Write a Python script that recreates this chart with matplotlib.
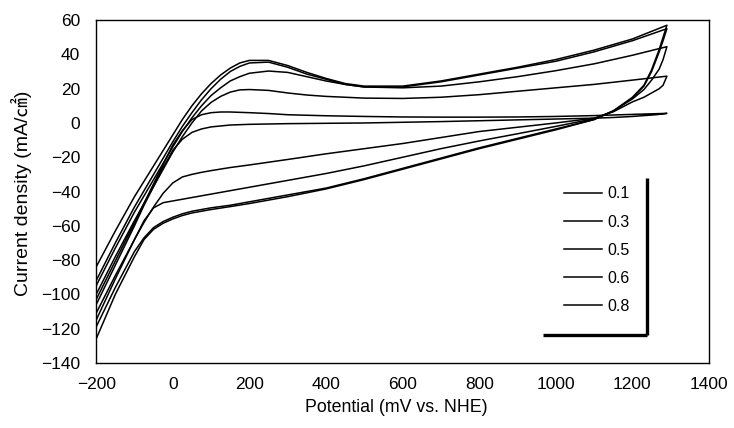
import matplotlib
matplotlib.use("Agg")
import matplotlib.pyplot as plt
from matplotlib.lines import Line2D

plt.rcParams['font.family'] = ['Liberation Sans', 'Noto Sans CJK KR', 'DejaVu Sans']

# scan labels (legend)
labels = ['0.1', '0.3', '0.5', '0.6', '0.8']

# forward (anodic) sweep potentials, mV vs NHE
E_fwd = [-200, -150, -100, -50, -25, 0, 25, 50, 75, 100, 125, 150, 175, 200, 250,
         300, 350, 400, 450, 500, 600, 700, 800, 900, 1000, 1100, 1200, 1290]
# reverse (cathodic) sweep potentials
E_rev = [1290, 1280, 1270, 1250, 1230, 1200, 1150, 1100, 1000, 900, 800, 700, 600,
         500, 400, 300, 200, 150, 100, 75, 50, 25, 0, -25, -50, -75, -100, -150, -200]

# current densities, mA/cm2
j_fwd_01 = [-103, -80.5, -58, -35.5, -24, -13, -4.5, 2, 4.8, 6, 6.4, 6.4, 6.2, 6, 5.5,
            4.8, 4.5, 4.2, 4, 3.8, 3.5, 3.4, 3.4, 3.5, 3.8, 4.3, 5, 5.6]
j_rev_01 = [5.6, 5.3, 5, 4.6, 4.3, 3.8, 3.2, 2.8, 2.3, 1.8, 1.3, 0.8, 0.4,
            0, -0.2, -0.4, -0.8, -1.2, -2.3, -3.5, -5.5, -9.5, -16, -26, -37, -48,
            -60, -83, -106]

j_fwd_03 = [-100, -78, -57, -37, -27, -17, -8, 0, 7, 12, 15.5, 18, 19.3, 19.5, 19,
            17.5, 16.3, 15.5, 15, 14.5, 14.3, 15, 16.5, 18.5, 20.5, 22.5, 25, 27.3]
j_rev_03 = [27.3, 22, 20, 17.5, 15, 12.3, 6.5, 2.8, 0, -2.5, -5, -8.5, -12,
            -15, -18, -21.3, -24.5, -26, -27.8, -28.8, -30, -31.5, -35, -41, -49, -58,
            -68, -89, -111]

j_fwd_05 = [-95, -73, -52, -33, -23.5, -14, -5, 3, 10, 16, 20.5, 24.5, 27, 29, 30.3,
            29.5, 27, 24.5, 22.5, 21, 20.5, 21.5, 24, 27, 30.5, 34.5, 39.5, 44.5]
j_rev_05 = [44.5, 37, 31.5, 25, 19.5, 14, 7, 2.5, -2, -6.3, -10.5, -15, -20,
            -25, -29.5, -33.5, -37.5, -39.5, -41.5, -42.5, -43.5, -44.5, -45.5, -46.5,
            -49.5, -57, -68, -91, -115]

j_fwd_06 = [-92, -70, -49, -30, -20.5, -11, -2, 6, 13.5, 20, 25.5, 30, 33, 35, 35.5,
            32.5, 28.5, 25.5, 22.5, 21, 21, 24, 28, 32, 36, 41.5, 48, 55]
j_rev_06 = [55, 48, 41.5, 30, 21.5, 14.5, 7, 2, -3.5, -9, -14.5, -20.5, -26.5,
            -32.5, -38, -42, -46, -48, -49.5, -50.5, -51.5, -53, -55, -57.5, -61, -67,
            -75, -96, -119]

j_fwd_08 = [-84, -63, -43, -25, -16, -7, 2, 10, 17, 23, 28, 32, 35, 36.5, 36.5,
            33.5, 29.5, 26, 23, 21.5, 21.5, 24.5, 28.5, 32.5, 37, 42.5, 49, 57]
j_rev_08 = [57, 50, 43, 31, 22, 15, 7, 2, -4, -9.5, -15, -21, -27,
            -33, -38.5, -43, -47, -48.8, -50.5, -51.5, -52.5, -54, -56, -58.5, -62, -68,
            -78, -100, -126]

fwd = [j_fwd_01, j_fwd_03, j_fwd_05, j_fwd_06, j_fwd_08]
rev = [j_rev_01, j_rev_03, j_rev_05, j_rev_06, j_rev_08]

x_ticks = [-200, 0, 200, 400, 600, 800, 1000, 1200, 1400]
y_ticks = [-140, -120, -100, -80, -60, -40, -20, 0, 20, 40, 60]

fig = plt.figure(figsize=(7.34, 4.28), dpi=100)
ax = fig.add_axes([0.131, 0.152, 0.835, 0.801])

for lab, jf, jr in zip(labels, fwd, rev):
    ax.plot(E_fwd + E_rev, jf + jr, color='black', lw=1.1, label=lab,
            solid_joinstyle='round')

ax.set_xlim(-200, 1400)
ax.set_ylim(-140, 60)
ax.set_xticks(x_ticks)
ax.set_yticks(y_ticks)
ax.tick_params(axis='both', length=0, labelsize=12.5)
ax.tick_params(axis='y', pad=11.5)
ax.tick_params(axis='x', pad=10)
for s in ax.spines.values():
    s.set_linewidth(1.0)
    s.set_color('black')

leg = ax.legend(loc='center', bbox_to_anchor=(0.8165, 0.329), frameon=False,
                fontsize=11.5, handlelength=2.4, handletextpad=0.3,
                labelspacing=0.82, borderpad=0.0)
# legend shadow edges
ax.add_line(Line2D([0.899, 0.899], [0.082, 0.539], transform=ax.transAxes,
                   color='black', lw=2.4, solid_capstyle='butt'))
ax.add_line(Line2D([0.729, 0.899], [0.082, 0.082], transform=ax.transAxes,
                   color='black', lw=2.4, solid_capstyle='butt'))

fig.text(396/734, 1 - 408/428, 'Potential (mV vs. NHE)', ha='center', va='center',
         fontsize=12.8)
fig.text(22/734, 1 - 193/428, 'Current density (mA/㎠)', ha='center', va='center',
         rotation=90, fontsize=14)

fig.savefig('out.png', dpi=100)
